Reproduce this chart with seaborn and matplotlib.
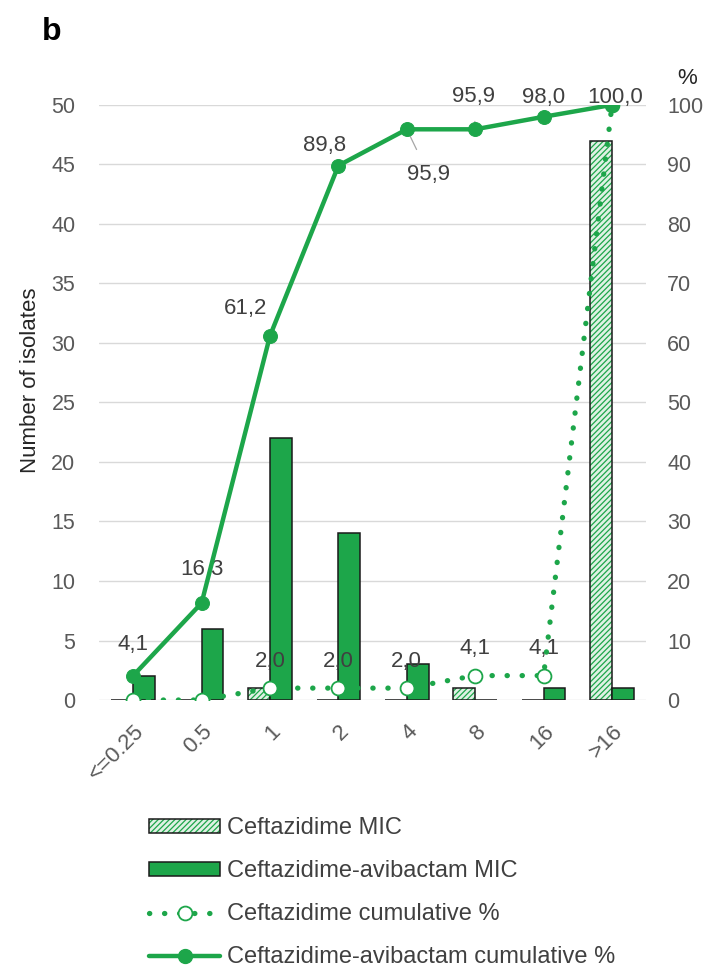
import numpy as np
import pandas as pd
import matplotlib
matplotlib.use("Agg")
import matplotlib.pyplot as plt
import matplotlib.colors as mcolors
import seaborn as sns
from matplotlib.patches import Patch
from matplotlib.lines import Line2D

# MIC categories and isolate counts
mic = ["<=0.25", "0.5", "1", "2", "4", "8", "16", ">16"]
caz_counts = [0, 0, 1, 0, 0, 1, 0, 47]
cza_counts = [2, 6, 22, 14, 3, 0, 1, 1]
# cumulative percentages
caz_cum = [0.0, 0.0, 2.0, 2.0, 2.0, 4.1, 4.1, 100.0]
cza_cum = [4.1, 16.3, 61.2, 89.8, 95.9, 95.9, 98.0, 100.0]

GREEN = "#1da64a"
LIGHT = "#dff1e4"
GRAY = "#595959"
TXT = "#404040"
FS = 16

sns.set_theme(style="white")
plt.rcParams["font.family"] = ["Liberation Sans", "DejaVu Sans"]
plt.rcParams["hatch.color"] = GREEN
plt.rcParams["hatch.linewidth"] = 0.9

fig = plt.figure(figsize=(7.2, 9.74), dpi=100)
ax = fig.add_axes([0.1375, 0.2813, 0.76, 0.611])

df = pd.DataFrame({
    "MIC": mic * 2,
    "count": caz_counts + cza_counts,
    "drug": ["Ceftazidime MIC"] * 8 + ["Ceftazidime-avibactam MIC"] * 8,
})
sns.barplot(data=df, x="MIC", y="count", hue="drug", order=mic,
            palette=[LIGHT, GREEN], width=0.64, ax=ax, legend=False,
            edgecolor="#1a1a1a", linewidth=1.1, saturation=1)


def green_hatch(p):
    p.set_hatch("//////")
    if hasattr(p, "set_hatchcolor"):
        p.set_hatchcolor(GREEN)
    else:
        p._hatch_color = mcolors.to_rgba(GREEN)


for p in ax.patches[:8]:
    green_hatch(p)

ax.set_ylim(0, 50)
ax.set_yticks(range(0, 51, 5))
ax.set_xlim(-0.5, 7.5)
ax.yaxis.grid(True, color="#d9d9d9", linewidth=1.0)
ax.set_axisbelow(True)
for s in ax.spines.values():
    s.set_visible(False)
ax.tick_params(axis="y", colors=GRAY, labelsize=15.5, length=0, pad=17)
ax.tick_params(axis="x", colors=GRAY, labelsize=FS, length=0, pad=15)
ax.set_xticks(range(8))
ax.set_xticklabels(mic, rotation=45, ha="right", rotation_mode="anchor")
ax.set_xlabel("")
ax.set_ylabel("Number of isolates", fontsize=FS, color="#262626")
ax.yaxis.set_label_coords(-0.106, 0.538)

ax2 = ax.twinx()
xs = np.arange(8)
dot = (0, (0.05, 2.8))
sns.lineplot(x=xs, y=caz_cum, ax=ax2, color=GREEN, linestyle=dot,
             linewidth=3.8, dash_capstyle="round", marker="o", markersize=10,
             markerfacecolor="white", markeredgecolor=GREEN,
             markeredgewidth=1.3, zorder=4)
sns.lineplot(x=xs, y=cza_cum, ax=ax2, color=GREEN, linewidth=3.2,
             marker="o", markersize=10, markerfacecolor=GREEN,
             markeredgecolor=GREEN, zorder=5)
ax2.set_ylim(0, 100)
ax2.set_yticks(range(0, 101, 10))
for s in ax2.spines.values():
    s.set_visible(False)
ax2.tick_params(axis="y", colors=GRAY, labelsize=15.5, length=0, pad=15)
ax2.grid(False)
ax2.text(1.075, 1.045, "%", transform=ax2.transAxes, fontsize=FS,
         color="#262626", ha="center", va="center")


def fmt(v):
    return f"{v:.1f}".replace(".", ",")


lab = dict(fontsize=FS, color=TXT, ha="center", va="center")
# positions of the ceftazidime-avibactam labels relative to their points
cza_pos = [(0.0, 9.3), (0.0, 21.9), (-0.35, 65.8), (-0.2, 93.2),
           None, None, (0.0, 101.2), (0.05, 101.2)]
for i, v in enumerate(cza_cum):
    if cza_pos[i] is None:
        continue
    dx, y = cza_pos[i]
    ax2.text(i + dx, y, fmt(v), **lab)
# the two 95,9 points carry leader lines
ax2.annotate(fmt(cza_cum[4]), xy=(4, cza_cum[4]), xytext=(4.32, 88.3), **lab,
             arrowprops=dict(arrowstyle="-", color="#a6a6a6", lw=0.9,
                             shrinkA=9, shrinkB=5))
ax2.annotate(fmt(cza_cum[5]), xy=(5, cza_cum[5]), xytext=(4.98, 101.4), **lab,
             arrowprops=dict(arrowstyle="-", color="#a6a6a6", lw=0.9,
                             shrinkA=8, shrinkB=5))
# labels for the ceftazidime cumulative line
for i, v in enumerate(caz_cum):
    if 0 < v < 100:
        ax2.text(i, v + 4.5, fmt(v), **lab)

fig.text(0.058, 0.967, "b", fontsize=23, fontweight="bold", color="black",
         ha="left", va="center")

legend_hatch = Patch(facecolor=LIGHT, edgecolor="#1a1a1a", hatch="//////",
                     linewidth=1.1)
green_hatch(legend_hatch)
handles = [
    legend_hatch,
    Patch(facecolor=GREEN, edgecolor="#1a1a1a", linewidth=1.1),
    Line2D([], [], color=GREEN, linestyle=dot, linewidth=3.8,
           dash_capstyle="round", marker="o", markersize=10,
           markerfacecolor="white", markeredgecolor=GREEN,
           markeredgewidth=1.3),
    Line2D([], [], color=GREEN, linewidth=3.2, marker="o", markersize=10,
           markerfacecolor=GREEN, markeredgecolor=GREEN),
]
labels = ["Ceftazidime MIC", "Ceftazidime-avibactam MIC",
          "Ceftazidime cumulative %", "Ceftazidime-avibactam cumulative %"]
leg = fig.legend(handles, labels, loc="upper left",
                 bbox_to_anchor=(0.191, 0.173), frameon=False, fontsize=17,
                 handlelength=3.0, handleheight=0.55, labelspacing=0.89,
                 handletextpad=0.3, borderpad=0)
for t in leg.get_texts():
    t.set_color(TXT)

fig.savefig("out.png", dpi=100, facecolor="white")
